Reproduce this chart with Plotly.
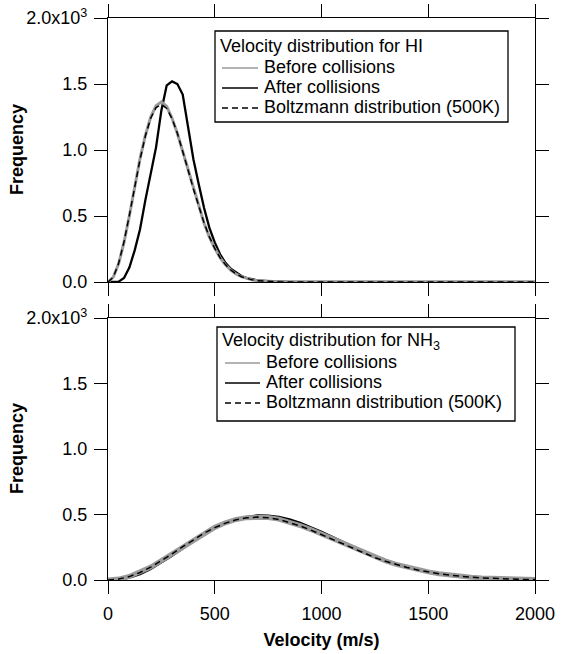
import plotly.graph_objects as go

# ---------------- data ----------------
# HI panel, velocity grid (m/s)
hi_v = [0, 25, 50, 75, 100, 125, 150, 175, 200, 225, 250, 275, 300, 325, 350,
        375, 400, 425, 450, 475, 500, 525, 550, 575, 600, 625, 650, 675, 700,
        750, 800, 850, 900, 1000, 2000]
hi_before = [0, 38, 140, 300, 500, 725, 935, 1110, 1250, 1335, 1365, 1330, 1240,
             1125, 990, 845, 700, 565, 445, 340, 255, 185, 130, 90, 60, 40, 26,
             16, 10, 4, 1, 0, 0, 0, 0]
hi_after = [0, 0, 3, 30, 110, 240, 400, 620, 830, 1020, 1300, 1490, 1520, 1500,
            1420, 1170, 930, 740, 560, 410, 300, 210, 145, 100, 70, 45, 30, 20,
            13, 6, 2, 1, 0, 0, 0]
hi_boltz = [0, 37, 143, 305, 505, 720, 928, 1106, 1241, 1321, 1345, 1315, 1238,
            1127, 994, 849, 705, 570, 447, 342, 255, 185, 132, 91, 61, 40, 26,
            16, 10, 4, 1, 0, 0, 0, 0]

# NH3 panel
nh3_v = [0, 50, 100, 150, 200, 250, 300, 350, 400, 450, 500, 550, 600, 650, 700,
         750, 800, 850, 900, 950, 1000, 1050, 1100, 1150, 1200, 1250, 1300, 1350,
         1400, 1450, 1500, 1550, 1600, 1650, 1700, 1750, 1800, 1850, 1900, 1950, 2000]
nh3_before = [0, 7, 27, 58, 99, 148, 200, 255, 309, 359, 402, 437, 462, 476, 481,
              477, 465, 443, 416, 385, 350, 313, 276, 240, 205, 173, 145, 119, 97,
              78, 62, 48, 37, 28, 21, 16, 12, 8, 6, 4, 3]
nh3_after = [0, 3, 18, 45, 85, 132, 185, 240, 297, 348, 395, 432, 462, 482, 493,
             492, 482, 462, 436, 404, 368, 330, 291, 253, 216, 182, 151, 123, 99,
             79, 62, 48, 37, 28, 21, 15, 11, 8, 6, 4, 3]
nh3_boltz = [0, 7, 26, 57, 98, 147, 199, 254, 307, 357, 400, 434, 460, 475, 480,
             475, 462, 440, 413, 381, 346, 309, 273, 237, 203, 171, 143, 118, 96,
             77, 61, 47, 37, 28, 21, 16, 12, 8, 6, 4, 3]

x_ticks = [0, 500, 1000, 1500, 2000]
x_ticktext = ["0", "500", "1000", "1500", "2000"]
y_ticks = [0, 500, 1000, 1500, 2000]
y_ticktext = ["0.0", "0.5", "1.0", "1.5", "2.0x10<sup>3</sup>"]

names = ["Before collisions", "After collisions", "Boltzmann distribution (500K)"]
legend_titles = ["Velocity distribution for HI", "Velocity distribution for NH<sub>3</sub>"]
y_title = "<b>Frequency</b>"
x_title = "<b>Velocity (m/s)</b>"

# ---------------- styling / layout constants ----------------
FONT = "Liberation Sans, Arial, sans-serif"
GRAY = "#9a9a9a"
DASH = "6px,4px"
W, H = 561, 654
ML, MR, MT, MB = 108, 26, 18, 74
PW, PH = W - ML - MR, H - MT - MB


def fx(p):  # page pixel x -> paper
    return (p - ML) / PW


def fy(p):  # page pixel y -> paper
    return (H - MB - p) / PH


fig = go.Figure()


def add_panel(v, before, after, boltz, xa, ya, gray_w, black_w):
    fig.add_trace(go.Scatter(x=v, y=after, mode="lines", xaxis=xa, yaxis=ya,
                             line=dict(color="black", width=black_w),
                             showlegend=False, hoverinfo="skip"))
    fig.add_trace(go.Scatter(x=v, y=before, mode="lines", xaxis=xa, yaxis=ya,
                             line=dict(color=GRAY, width=gray_w),
                             showlegend=False, hoverinfo="skip"))
    fig.add_trace(go.Scatter(x=v, y=boltz, mode="lines", xaxis=xa, yaxis=ya,
                             line=dict(color="black", width=1.5, dash=DASH),
                             showlegend=False, hoverinfo="skip"))


add_panel(hi_v, hi_before, hi_after, hi_boltz, "x", "y", 3, 2.3)
add_panel(nh3_v, nh3_before, nh3_after, nh3_boltz, "x2", "y2", 5, 2.3)

# ---------------- legends (box, line samples, texts) ----------------
shapes, annots = [], []
sample_styles = [dict(color=GRAY, width=1.3), dict(color="black", width=1.6),
                 dict(color="black", width=1.5, dash=DASH)]


def add_legend(box, title, title_xy, sample_x, row_y, text_x):
    x0, y0, x1, y1 = box
    shapes.append(dict(type="rect", xref="paper", yref="paper",
                       x0=fx(x0), x1=fx(x1), y0=fy(y1), y1=fy(y0),
                       line=dict(color="black", width=1.3), fillcolor="white",
                       layer="above"))
    annots.append(dict(text=title, xref="paper", yref="paper",
                       x=fx(title_xy[0]), y=fy(title_xy[1]), xanchor="left",
                       yanchor="middle", showarrow=False,
                       font=dict(family=FONT, size=18, color="black")))
    for nm, st, ry in zip(names, sample_styles, row_y):
        shapes.append(dict(type="line", xref="paper", yref="paper",
                           x0=fx(sample_x[0]), x1=fx(sample_x[1]),
                           y0=fy(ry), y1=fy(ry), line=st, layer="above"))
        annots.append(dict(text=nm, xref="paper", yref="paper",
                           x=fx(text_x), y=fy(ry - 1), xanchor="left",
                           yanchor="middle", showarrow=False,
                           font=dict(family=FONT, size=18, color="black")))


add_legend((215, 31, 508, 122), legend_titles[0], (218, 46), (222, 258),
           (68, 88, 108), 262)
add_legend((217, 327, 515, 421), legend_titles[1], (220, 341), (225, 260),
           (363, 383, 403), 264)

# y axis titles
for yc in (150, 449):
    annots.append(dict(text=y_title, xref="paper", yref="paper", x=fx(17), y=fy(yc),
                       xanchor="center", yanchor="middle", textangle=-90,
                       showarrow=False, font=dict(family=FONT, size=18, color="black")))

axis_common = dict(showline=True, linecolor="black", linewidth=1.4, mirror="ticks",
                   ticks="outside", ticklen=13, tickwidth=1.4, tickcolor="black",
                   showgrid=False, zeroline=False, automargin=False,
                   tickfont=dict(family=FONT, size=18, color="black"))

fig.update_layout(
    width=W, height=H,
    margin=dict(l=ML, r=MR, t=MT, b=MB),
    plot_bgcolor="white", paper_bgcolor="white",
    font=dict(family=FONT, size=18, color="black"),
    showlegend=False,
    xaxis=dict(domain=[0, 1], range=[0, 2000], tickvals=x_ticks, ticktext=x_ticktext,
               showticklabels=False, anchor="y", **axis_common),
    yaxis=dict(domain=[fy(282), 1], range=[0, 2000], tickvals=y_ticks,
               ticktext=y_ticktext, anchor="x", ticklabelstandoff=3, **axis_common),
    xaxis2=dict(domain=[0, 1], range=[0, 2000], tickvals=x_ticks, ticktext=x_ticktext,
                anchor="y2", matches="x", ticklabelstandoff=4,
                title=dict(text=x_title, font=dict(family=FONT, size=18), standoff=10),
                **axis_common),
    yaxis2=dict(domain=[0, fy(318)], range=[0, 2000], tickvals=y_ticks,
                ticktext=y_ticktext, anchor="x2", ticklabelstandoff=3, **axis_common),
    shapes=shapes,
    annotations=annots,
)

fig.write_html("out.html")
